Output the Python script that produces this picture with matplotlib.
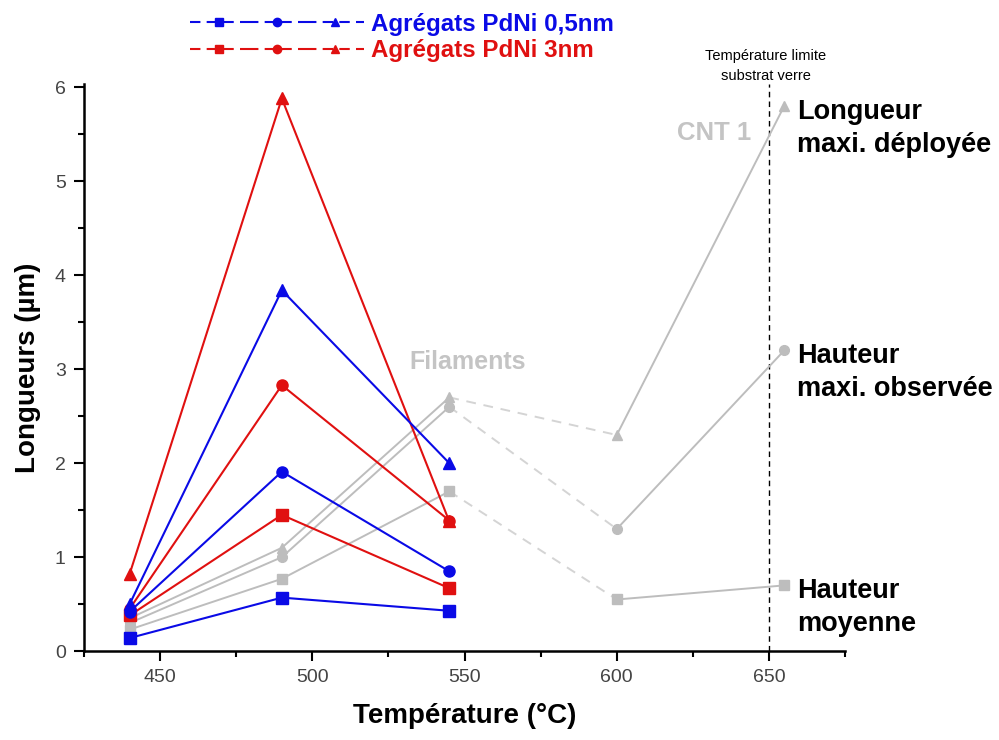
import matplotlib
matplotlib.use("Agg")
import matplotlib.pyplot as plt
from matplotlib.lines import Line2D
from matplotlib.legend_handler import HandlerTuple

plt.rcParams['font.family'] = ['Liberation Sans', 'DejaVu Sans']

# temperatures (°C)
temps = [440, 490, 545]
temps_cnt = [440, 490, 545, 600, 655]

# PdNi 0.5 nm aggregates
blue_moy = [0.14, 0.57, 0.43]
blue_haut = [0.42, 1.91, 0.85]
blue_long = [0.50, 3.84, 2.00]

# PdNi 3 nm aggregates
red_moy = [0.38, 1.45, 0.67]
red_haut = [0.45, 2.83, 1.39]
red_long = [0.82, 5.88, 1.38]

# filaments / CNT 1 (grey)
grey_moy = [0.23, 0.77, 1.70, 0.55, 0.70]
grey_haut = [0.30, 1.00, 2.60, 1.30, 3.20]
grey_long = [0.35, 1.10, 2.70, 2.30, 5.80]

labels_right = ["Longueur\nmaxi. déployée", "Hauteur\nmaxi. observée", "Hauteur\nmoyenne"]
legend_labels = ["Agrégats PdNi 0,5nm", "Agrégats PdNi 3nm"]

BLUE = "#0a0ae6"
RED = "#e01010"
GREY = "#bdbdbd"
GREY_DASH = "#d4d4d4"
markers = ["s", "o", "^"]

fig = plt.figure(figsize=(9.99, 7.4), dpi=100)
ax = fig.add_axes([0.084, 0.120, 0.762, 0.766])

# grey series: solid up to 545, dashed to 600, solid to 655
for ys, m in zip([grey_moy, grey_haut, grey_long], markers):
    ax.plot(temps_cnt[:3], ys[:3], color=GREY, lw=1.4, marker=m, ms=7,
            mec=GREY, mfc=GREY, zorder=2)
    ax.plot(temps_cnt[2:4], ys[2:4], color=GREY_DASH, lw=1.4, ls=(0, (5, 4)), zorder=1)
    ax.plot(temps_cnt[3:], ys[3:], color=GREY, lw=1.4, marker=m, ms=7,
            mec=GREY, mfc=GREY, zorder=2)

# coloured series
for ys, m in zip([blue_moy, blue_haut, blue_long], markers):
    ax.plot(temps, ys, color=BLUE, lw=1.5, marker=m, ms=8, zorder=4)
for ys, m in zip([red_moy, red_haut, red_long], markers):
    ax.plot(temps, ys, color=RED, lw=1.5, marker=m, ms=8, zorder=3)

# glass substrate limit
ax.axvline(650, color="black", lw=1, ls=(0, (4, 3)), zorder=0)
ax.text(649, 6.04, "Température limite\nsubstrat verre", ha="center", va="bottom",
        fontsize=10.5, linespacing=1.6, clip_on=False)

ax.text(551, 2.95, "Filaments", color="#c4c4c4", fontsize=18, fontweight="bold",
        ha="center", va="bottom")
ax.text(632, 5.38, "CNT 1", color="#c4c4c4", fontsize=18.5, fontweight="bold",
        ha="center", va="bottom")

# labels next to the CNT end points
for ys, lab in zip([grey_long, grey_haut, grey_moy], labels_right):
    ax.annotate(lab, xy=(temps_cnt[-1], ys[-1]), xytext=(9, 5), textcoords="offset points",
                ha="left", va="top", fontsize=19.5, fontweight="bold", linespacing=1.35,
                annotation_clip=False)

ax.set_xlim(425, 675)
ax.set_ylim(0, 6.03)
ax.set_xticks([450, 500, 550, 600, 650])
ax.set_xticks(range(425, 676, 25), minor=True)
ax.set_yticks(range(0, 7))
ax.set_yticks([0.5 + i for i in range(6)], minor=True)
for s in ["top", "right"]:
    ax.spines[s].set_visible(False)
for s in ["left", "bottom"]:
    ax.spines[s].set_linewidth(1.8)
ax.tick_params(which="major", direction="out", length=7, width=1.5, labelsize=14,
               labelcolor="#444444", pad=6)
ax.tick_params(which="minor", direction="out", length=4, width=1.5)

ax.set_xlabel("Température (°C)", fontsize=20, fontweight="bold", labelpad=12)
ax.set_ylabel("Longueurs (µm)", fontsize=20, fontweight="bold", labelpad=10)

# legend: three marker styles per group
handles = []
for c in [BLUE, RED]:
    handles.append(tuple(Line2D([], [], color=c, lw=1.5, ls=(0, (5, 3)), marker=m, ms=6)
                         for m in markers))
leg = fig.legend(handles, legend_labels, handler_map={tuple: HandlerTuple(ndivide=None, pad=0)},
                 loc="upper left", bbox_to_anchor=(0.19, 0.983), frameon=False,
                 handlelength=7.2, handletextpad=0.3, labelspacing=0.14, borderpad=0,
                 prop={"weight": "bold", "size": 17.4}, borderaxespad=0)
for t, c in zip(leg.get_texts(), [BLUE, RED]):
    t.set_color(c)

fig.savefig("out.png", dpi=100)
